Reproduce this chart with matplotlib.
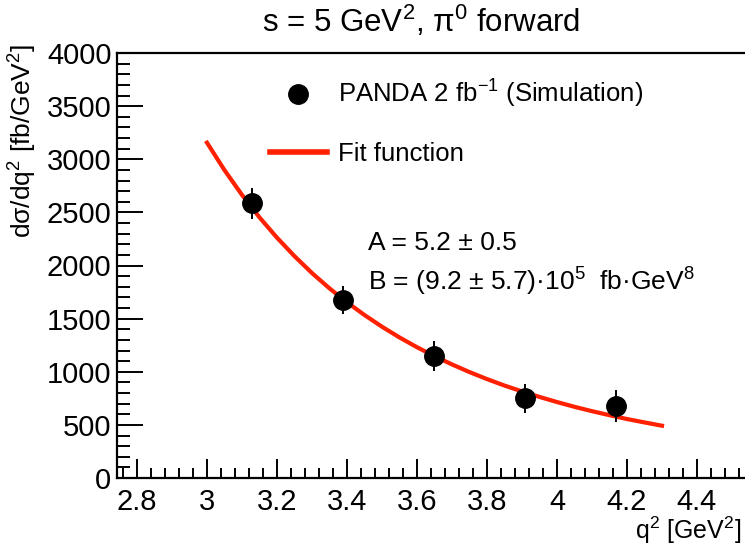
import matplotlib
matplotlib.use('Agg')
import matplotlib.pyplot as plt
from matplotlib.ticker import MultipleLocator, FormatStrFormatter
from matplotlib.lines import Line2D

plt.rcParams['font.family'] = ['Liberation Sans', 'DejaVu Sans']
plt.rcParams['mathtext.fontset'] = 'custom'
plt.rcParams['mathtext.rm'] = 'Liberation Sans'
plt.rcParams['mathtext.it'] = 'Liberation Sans:italic'
plt.rcParams['mathtext.bf'] = 'Liberation Sans:bold'

# PANDA simulated points
q2 = [3.13, 3.39, 3.65, 3.91, 4.17]
xsec = [2585, 1675, 1148, 750, 678]
xsec_err = [145, 135, 140, 138, 150]

# fit curve
fit_q2 = [3.00, 3.05, 3.10, 3.15, 3.20, 3.25, 3.30, 3.35, 3.40, 3.45, 3.50, 3.55, 3.60, 3.65,
          3.70, 3.75, 3.80, 3.85, 3.90, 3.95, 4.00, 4.05, 4.10, 4.15, 4.20, 4.25, 4.30]
fit_xsec = [3156, 2898, 2665, 2453, 2262, 2088, 1929, 1785, 1654, 1534, 1424, 1323, 1231, 1147,
            1069, 997, 931, 870, 815, 763, 715, 670, 629, 591, 555, 523, 492]

W, H = 745, 546
fig = plt.figure(figsize=(W / 100, H / 100), dpi=100)
# right edge of the frame runs past the picture, as in the original
ax = fig.add_axes([117 / W, 68 / H, 643 / W, 425 / H])

ax.plot(fit_q2, fit_xsec, color='#ff2000', lw=3, zorder=2)
ax.errorbar(q2, xsec, yerr=xsec_err, fmt='o', color='black', ms=14,
            elinewidth=1.4, capsize=0, zorder=3)

ax.set_xlim(2.743, 4.58)
ax.set_ylim(0, 4000)
ax.xaxis.set_major_locator(MultipleLocator(0.2))
ax.xaxis.set_minor_locator(MultipleLocator(0.04))
ax.xaxis.set_major_formatter(FormatStrFormatter('%g'))
ax.yaxis.set_major_locator(MultipleLocator(500))
ax.yaxis.set_minor_locator(MultipleLocator(100))
ax.tick_params(axis='both', which='both', direction='in', labelsize=21, width=1.4)
ax.tick_params(axis='x', which='major', length=14, pad=7)
ax.tick_params(axis='x', which='minor', length=7)
ax.tick_params(axis='y', which='major', length=19, pad=4)
ax.tick_params(axis='y', which='minor', length=9)
for s in ax.spines.values():
    s.set_linewidth(1.6)

fig.text(421 / W, 1 - 21 / H, 's = 5 GeV$^2$, π$^0$ forward', ha='center', va='center', fontsize=22.5)
fig.text(23 / W, 1 - 44 / H, 'dσ/dq$^2$ [fb/GeV$^2$]', ha='center', va='top', rotation=90, fontsize=19)
fig.text(741 / W, 1 - 530 / H, 'q$^2$ [GeV$^2$]', ha='right', va='center', fontsize=18)

ax.text(368 / W, 1 - 243 / H, 'A = 5.2 ± 0.5', transform=fig.transFigure, ha='left', va='center', fontsize=19)
ax.text(368 / W, 1 - 282 / H, 'B = (9.2 ± 5.7)·10$^5$  fb·GeV$^8$', transform=fig.transFigure,
        ha='left', va='center', fontsize=19)

handles = [Line2D([], [], marker='o', ls='none', color='black', ms=14),
           Line2D([], [], color='#ff2000', lw=4)]
labels = ['PANDA 2 fb$^{-1}$ (Simulation)', 'Fit function']
ax.legend(handles, labels, loc='upper left', bbox_to_anchor=(270 / W, 1 - 78 / H),
          bbox_transform=fig.transFigure, frameon=False, fontsize=18.5, borderpad=0,
          borderaxespad=0, handlelength=2.2, handletextpad=0.45, labelspacing=1.25)

fig.savefig('out.png', dpi=100)
